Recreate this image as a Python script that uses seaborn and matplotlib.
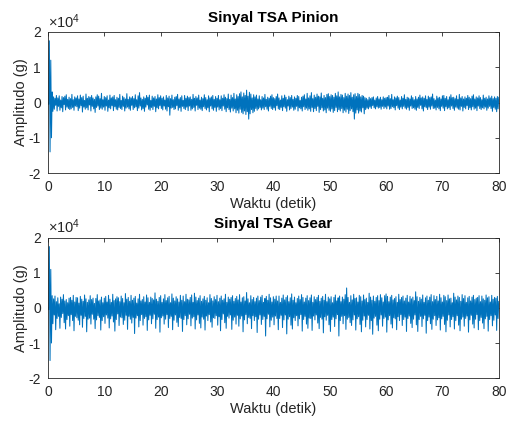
import numpy as np
import pandas as pd
import matplotlib
matplotlib.use("Agg")
import matplotlib.pyplot as plt
import matplotlib.ticker as mticker
import seaborn as sns

# Signal values (in thousands of g), one sample every 0.125 s
pinion_k = [
    0, -0.5, 17.5, -14, 12, -10, 3, -2.5, 1.6, -1.9, 1.2, -0.8, 2.0, -2.4, 1.3, -1.1, 1.9, -2.2, 0.7, -1.5, 1.7, -2.6, 1.4, -0.6, 1.8, -2.1, 2.2, -1.3, 0.9, -1.7, 1.5, -2.0, 1.1, -1.8, 2.3, -1.4, 0.8, -2.2, 1.6, -1.0, 1.3,
    -1.2, 1.9, -2.3, 1.0, -1.6, 2.1, -0.9, 1.4, -2.7, 1.8, -1.3, 0.6, -1.9, 2.4, -1.5, 1.2, -2.1, 1.7, -0.7, 1.5, -2.4, 2.0, -1.1, 1.3, -1.8, 0.9, -2.8, 1.6, -1.4, 2.2, -1.0, 1.8, -2.0, 1.1, -1.6, 2.6, -1.9, 0.8, -1.3, 1.7,
    -2.2, 1.4, -1.0, 1.9, -2.5, 0.7, -1.5, 2.1, -1.8, 1.3, -0.9, 1.6, -2.3, 2.0, -1.2, 0.8, -1.9, 1.5, -2.1, 1.2, -1.4, 2.3, -1.7, 0.6, -2.0, 1.8, -1.1, 1.4, -2.4, 1.0, -1.6, 2.5, -1.3, 0.9, -1.8, 1.6, -2.2, 1.3, -0.8, 1.7,
    -2.0, 1.1, -1.5, 2.2, -1.2, 0.8, -2.3, 1.9, -1.6, 2.8, -1.0, 1.3, -2.1, 0.9, -1.7, 1.6, -2.5, 1.2, -1.3, 2.0, -0.7, 1.5, -1.9, 2.1, -2.2, 0.6, -1.4, 1.8, -2.0, 1.3, -1.1, 1.7, -2.6, 1.0, -1.5, 2.2, -1.8, 1.4, -0.9, 1.9,
    -1.7, 1.2, -2.1, 1.6, -1.0, 0.7, -1.9, 2.0, -2.4, 1.3, -1.2, 1.8, -3.6, 1.1, -1.6, 2.1, -1.4, 0.8, -2.0, 1.5, -1.8, 1.7, -0.9, 2.3, -2.2, 1.0, -1.5, 1.4, -2.5, 1.9, -1.1, 0.6, -1.7, 2.0, -2.0, 1.2, -1.3, 1.8, -2.3, 1.4,
    -1.0, 1.6, -2.2, 0.9, -1.8, 2.3, -1.4, 1.2, -2.4, 1.7, -0.8, 1.3, -2.0, 2.1, -1.6, 0.7, -1.9, 1.5, -2.3, 1.1, -1.2, 2.2, -1.7, 1.4, -2.1, 0.8, -1.5, 1.9, -2.6, 1.3, -1.0, 1.6, -1.8, 2.0, -2.2, 0.9, -1.4, 1.7, -2.5, 1.2,
    -1.3, 2.0, -2.1, 0.8, -1.7, 1.9, -2.3, 1.2, -1.0, 2.2, -1.9, 1.5, -2.6, 1.1, -1.5, 2.4, -2.0, 0.9, -2.7, 2.1, -1.6, 1.4, -2.4, 2.6, -1.8, 1.0, -2.9, 2.2, -2.2, 1.7, -3.0, 2.5, -1.9, 3.0, -2.8, 1.6, -3.2, 2.7, -2.4, 2.0,
    -3.4, 3.5, -2.6, 1.8, -4.7, 2.9, -3.2, 2.4, -2.0, 1.3, -2.9, 2.2, -2.5, 1.6, -1.7, 2.1, -2.2, 1.0, -1.8, 1.9, -1.4, 0.8, -2.1, 1.7, -1.6, 1.3, -2.0, 2.3, -1.2, 0.9, -1.9, 1.5, -2.4, 1.2, -1.1, 1.8, -1.7, 2.2, -2.0, 1.4,
    -1.5, 1.1, -2.2, 1.7, -0.9, 2.4, -1.8, 1.3, -2.0, 0.7, -1.4, 1.9, -2.3, 1.2, -1.2, 2.1, -1.6, 1.5, -2.5, 0.8, -1.0, 1.8, -2.1, 1.4, -1.7, 2.0, -1.3, 0.9, -2.2, 1.6, -1.9, 1.2, -1.1, 2.0, -2.4, 1.7, -1.5, 0.6, -1.8, 1.5,
    -2.4, 1.8, -1.2, 2.2, -2.0, 1.0, -1.6, 2.6, -2.2, 1.3, -1.8, 1.9, -2.5, 2.8, -1.4, 1.1, -2.6, 2.1, -1.7, 1.5, -2.3, 2.4, -1.1, 1.8, -2.8, 1.6, -2.0, 2.7, -1.5, 1.2, -2.4, 2.0, -2.1, 1.4, -2.9, 2.3, -1.6, 2.5, -2.2, 1.7,
    -2.5, 2.2, -1.8, 2.0, -2.8, 1.5, -2.3, 2.6, -1.4, 1.9, -2.6, 3.0, -2.0, 1.6, -2.4, 2.3, -1.7, 2.1, -2.9, 1.4, -2.2, 2.6, -2.7, 1.8, -1.9, 2.4, -3.1, 2.0, -2.3, 2.8, -1.8, 1.5, -2.6, 2.2, -4.7, 2.5, -3.0, 1.7, -2.1, 2.6,
    -3.0, 2.3, -2.4, 1.6, -2.7, 2.0, -1.5, 1.8, -3.2, 1.4, -2.0, 1.2, -1.6, 0.8, -1.8, 1.5, -1.3, 1.1, -1.7, 1.4, -0.9, 1.6, -1.5, 0.7, -1.8, 1.3, -1.2, 1.7, -1.6, 1.0, -1.4, 1.5, -1.9, 0.8, -1.1, 1.6, -1.7, 1.2, -1.3, 1.4,
    -1.8, 1.5, -1.0, 2.0, -1.9, 1.1, -1.7, 2.3, -1.2, 0.8, -1.5, 1.6, -2.1, 1.3, -0.9, 1.8, -1.6, 1.4, -2.0, 0.7, -1.3, 1.7, -1.8, 1.2, -1.1, 2.2, -1.6, 0.9, -1.9, 1.5, -1.4, 1.3, -2.2, 1.0, -1.0, 1.9, -1.7, 1.4, -1.5, 0.8,
    -1.9, 1.7, -2.2, 1.0, -1.4, 1.5, -1.7, 2.1, -0.8, 1.3, -1.8, 1.6, -2.4, 1.2, -1.2, 1.9, -1.5, 0.9, -2.0, 1.8, -1.3, 1.4, -1.9, 1.6, -1.0, 2.4, -1.7, 1.1, -1.6, 0.7, -2.1, 1.8, -1.4, 1.3, -1.8, 1.5, -2.3, 1.0, -1.1, 1.9,
    -1.6, 2.0, -2.3, 1.2, -1.2, 1.7, -1.8, 0.8, -1.5, 1.6, -2.0, 2.2, -1.0, 1.4, -1.7, 1.5, -2.2, 1.1, -1.3, 1.9, -1.6, 0.9, -1.9, 2.3, -2.1, 1.3, -1.1, 1.7, -2.4, 1.0, -1.4, 1.6, -1.8, 1.2, -0.9, 2.0, -2.0, 1.5, -1.5, 1.1,
    -2.1, 1.8, -1.2, 2.2, -1.9, 1.0, -1.6, 1.6, -2.3, 1.3, -1.0, 1.9, -1.7, 1.4, -2.0, 0.8, -1.5, 2.1, -1.8, 1.2, -1.3, 1.5, -2.2, 1.0, -1.6, 1.9, -1.1, 1.3, -1.7, 1.8, -2.5, 1.1, -1.4, 1.6, -1.9, 1.2, -2.6, 1.7, -1.8, 1.5,
]

gear_k = [
    0, -0.5, 17.5, -15, 11, -10, 3.5, -4.5, 2.6, -2.0, 3.4, -6.2, 1.8, -3.0, 2.9, -2.4, 1.2, -5.8, 3.1, -2.7, 2.5, -1.6, 3.8, -4.2, 2.0, -6.0, 2.4, -3.3, 1.5, -2.2, 2.8, -5.2, 3.0, -1.9, 2.2, -3.6, 3.6, -6.5, 1.7, -2.4, 3.0,
    -2.8, 2.9, -3.5, 1.4, -4.8, 3.3, -2.1, 2.5, -5.5, 1.9, -3.0, 3.7, -2.4, 2.6, -6.8, 1.6, -3.2, 2.3, -2.9, 3.5, -4.6, 2.4, -1.8, 2.8, -3.2, 1.3, -5.9, 2.7, -3.4, 3.8, -2.2, 2.0, -2.7, 2.3, -6.3, 3.1, -3.6, 1.5, -2.5, 2.8,
    -4.4, 3.3, -2.0, 1.7, -2.9, 3.6, -5.7, 2.5, -3.1, 1.6, -2.3, 3.9, -4.0, 2.1, -6.6, 2.6, -3.3, 3.2, -1.7, 2.9, -5.0, 1.8, -2.6, 3.4, -2.8, 2.7, -4.7, 1.5, -3.5, 4.1, -2.1, 2.5, -6.1, 3.0, -2.4, 1.9, -3.2, 3.6, -4.3, 2.2,
    -2.7, 2.8, -7.3, 3.3, -2.9, 1.4, -2.2, 2.6, -5.4, 3.9, -3.6, 2.0, -1.9, 2.4, -4.9, 3.2, -3.0, 1.7, -2.5, 3.7, -6.4, 2.9, -3.4, 1.6, -2.1, 3.1, -4.5, 2.7, -3.1, 2.3, -1.8, 4.3, -5.8, 2.5, -3.3, 1.9, -2.6, 3.0, -6.9, 3.5,
    -2.8, 1.6, -2.3, 2.6, -4.6, 3.8, -3.2, 2.1, -1.9, 2.9, -5.6, 3.3, -3.0, 1.5, -2.4, 4.0, -6.2, 2.8, -3.5, 2.0, -2.0, 3.2, -4.1, 2.6, -5.3, 1.7, -2.7, 3.6, -3.0, 2.2, -6.7, 3.4, -3.3, 1.8, -2.2, 3.9, -4.8, 2.5, -3.1, 2.3,
    -1.8, 3.0, -5.1, 3.7, -2.9, 1.6, -2.5, 4.2, -6.0, 3.1, -3.4, 2.1, -2.0, 2.8, -4.4, 3.5, -5.7, 1.9, -2.6, 2.6, -3.2, 3.3, -6.3, 2.2, -2.3, 2.9, -3.6, 1.5, -1.9, 3.8, -4.0, 2.7, -5.5, 2.0, -2.8, 3.2, -3.0, 2.4, -2.2, 3.6,
    -4.9, 1.8, -2.5, 2.8, -6.5, 3.4, -3.3, 2.2, -1.7, 2.6, -4.2, 3.9, -5.8, 1.6, -2.4, 3.1, -2.9, 2.5, -2.0, 3.0, -6.1, 3.5, -3.5, 1.9, -2.6, 2.7, -4.6, 3.3, -2.1, 2.3, -5.2, 3.8, -3.1, 1.7, -2.3, 2.9, -6.8, 3.2, -3.4, 2.0,
    -1.9, 4.4, -4.5, 2.6, -2.7, 1.5, -3.0, 3.5, -5.9, 2.4, -2.2, 3.0, -3.6, 1.8, -2.5, 2.8, -7.0, 3.4, -3.2, 2.1, -2.0, 3.1, -4.7, 3.6, -3.3, 1.6, -2.4, 2.7, -8.0, 3.3, -3.1, 2.2, -1.8, 3.9, -5.4, 2.9, -3.5, 1.7, -2.6, 3.2,
    -4.8, 2.5, -2.3, 3.4, -3.0, 2.0, -6.2, 3.4, -3.0, 1.6, -2.1, 2.8, -5.6, 3.7, -3.4, 2.3, -2.0, 3.0, -7.4, 3.5, -3.2, 1.8, -2.5, 2.9, -4.9, 4.0, -6.0, 2.2, -2.8, 3.1, -3.6, 1.5, -2.2, 2.7, -5.1, 3.4, -3.1, 2.4, -1.9, 3.8,
    -6.6, 3.0, -3.3, 1.7, -2.4, 2.8, -4.6, 3.5, -5.8, 2.1, -2.9, 2.9, -3.0, 3.7, -6.4, 1.6, -2.3, 3.2, -3.4, 2.4, -2.0, 3.0, -4.3, 3.6, -5.9, 1.9, -2.7, 2.8, -3.2, 3.3, -7.1, 2.2, -2.5, 3.9, -3.5, 1.8, -2.1, 3.1, -4.8, 2.6,
    -6.7, 3.2, -3.3, 1.5, -2.6, 3.0, -5.3, 3.7, -3.1, 2.0, -1.9, 2.9, -8.0, 3.4, -3.6, 1.8, -2.4, 3.1, -4.5, 2.5, -2.2, 3.8, -6.1, 5.7, -3.2, 3.0, -2.7, 1.6, -4.2, 3.5, -5.0, 2.3, -3.4, 3.9, -2.0, 2.7, -6.3, 2.9, -3.1, 1.7,
    -2.5, 3.6, -4.7, 3.2, -6.8, 2.0, -3.5, 3.7, -2.3, 2.4, -5.4, 2.8, -3.3, 1.6, -2.1, 4.2, -6.0, 3.1, -3.6, 2.2, -7.5, 3.4, -2.9, 1.9, -2.4, 3.0, -4.9, 3.5, -6.5, 2.1, -3.2, 3.8, -2.0, 2.9, -5.2, 1.7, -3.0, 3.5, -2.6, 4.0,
    -6.9, 3.3, -3.4, 1.8, -2.2, 3.1, -4.6, 3.6, -5.7, 2.3, -2.8, 2.7, -3.1, 3.2, -6.2, 1.6, -2.5, 3.9, -3.6, 2.4, -1.9, 3.0, -5.0, 3.4, -3.3, 2.0, -2.6, 2.8, -6.7, 3.6, -3.0, 1.7, -2.3, 3.3, -4.4, 2.6, -5.6, 3.1, -3.2, 2.1,
    -2.0, 4.6, -4.8, 3.2, -6.7, 1.9, -3.3, 3.0, -2.4, 2.5, -5.3, 3.7, -3.1, 1.6, -2.1, 2.9, -7.2, 3.4, -3.6, 2.2, -2.6, 3.1, -4.5, 3.8, -6.1, 1.8, -3.2, 3.5, -2.2, 2.4, -5.0, 3.3, -3.4, 2.0, -2.8, 3.9, -6.3, 2.9, -3.1, 1.7,
    -2.4, 3.6, -4.7, 3.2, -6.8, 2.1, -3.5, 3.7, -2.0, 2.6, -5.4, 2.8, -3.3, 1.5, -2.5, 4.2, -6.0, 3.1, -3.6, 2.3, -2.2, 3.4, -4.9, 3.0, -6.5, 1.9, -3.2, 3.8, -2.6, 2.7, -5.2, 3.5, -3.0, 1.6, -2.3, 2.9, -6.9, 3.3, -3.4, 2.0,
    -2.1, 3.1, -4.6, 3.6, -5.7, 2.4, -3.2, 2.8, -1.9, 3.0, -6.2, 3.5, -3.6, 1.8, -2.7, 3.4, -4.3, 2.6, -5.9, 2.2, -3.1, 3.7, -2.4, 2.9, -6.6, 3.2, -3.3, 1.7, -2.2, 3.6, -5.1, 2.5, -3.5, 3.0, -2.0, 2.8, -6.4, 3.3, -3.0, 1.9,
]

titles = ["Sinyal TSA Pinion", "Sinyal TSA Gear"]
x_label = "Waktu (detik)"
y_label = "Amplitudo (g)"
x_ticks = [0, 10, 20, 30, 40, 50, 60, 70, 80]
y_ticks = [-20000, -10000, 0, 10000, 20000]
sample_step = 0.125

sns.set_style("white")
plt.rcParams["font.family"] = ["Liberation Sans", "DejaVu Sans"]
plt.rcParams["axes.unicode_minus"] = False
plt.rcParams["mathtext.fontset"] = "custom"
plt.rcParams["mathtext.rm"] = "Liberation Sans"
plt.rcParams["mathtext.default"] = "regular"

fig = plt.figure(figsize=(5.10, 4.21), dpi=100)
fig.patch.set_facecolor("white")
ax_top = fig.add_axes([0.094, 0.589, 0.884, 0.335])
ax_bot = fig.add_axes([0.094, 0.102, 0.884, 0.333])

for ax, vals, title in zip([ax_top, ax_bot], [pinion_k, gear_k], titles):
    n = len(vals)
    df = pd.DataFrame({
        "t": np.arange(n) * sample_step,
        "amp": np.array(vals) * 1000.0,
    })
    sns.lineplot(data=df, x="t", y="amp", ax=ax, color="#0072BD",
                 linewidth=0.75, estimator=None, sort=False, legend=False)
    ax.set_xlim(0, 80)
    ax.set_ylim(-20000, 20000)
    ax.set_xticks(x_ticks)
    ax.set_yticks(y_ticks)
    ax.yaxis.set_major_formatter(mticker.FuncFormatter(lambda v, p: f"{v / 1e4:g}"))
    ax.text(0.0, 1.01, r"$\times10^{4}$", transform=ax.transAxes,
            ha="left", va="bottom", fontsize=10.5, color="#262626")
    ax.tick_params(direction="in", length=3, width=0.6, top=True, right=True,
                   labelsize=10, colors="#262626", labelcolor="#262626", pad=5)
    for sp in ax.spines.values():
        sp.set_visible(True)
        sp.set_color("#262626")
        sp.set_linewidth(0.6)
    ax.set_title(title, fontsize=11, fontweight="bold", pad=7, color="black")
    ax.set_xlabel(x_label, fontsize=10.5, color="#262626", labelpad=2)
    ax.set_ylabel(y_label, fontsize=10.5, color="#262626", labelpad=0)
    ax.set_facecolor("white")

fig.savefig("out.png", dpi=100, facecolor="white")
